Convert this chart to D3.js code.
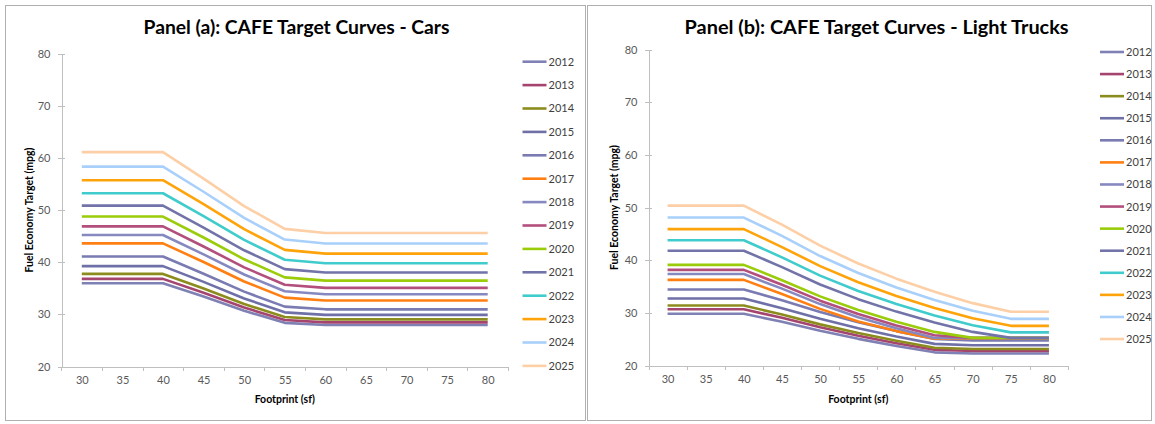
<!DOCTYPE html>
<html lang="en">
<head>
  <meta charset="UTF-8">
  <title>CAFE Target Curves</title>
  <script src="https://d3js.org/d3.v7.min.js"></script>
  <style>
    body {
      margin: 0;
      background: #ffffff;
    }
    svg {
      display: block;
      font-family: "Lato", "Open Sans", sans-serif;
    }
    .panel-border {
      fill: #ffffff;
      stroke: #b0b0b0;
      stroke-width: 1;
    }
    .chart-title {
      font-size: 19px;
      font-weight: bold;
      fill: #000000;
    }
    .axis path,
    .axis line {
      fill: none;
      stroke: #bfbfbf;
      shape-rendering: crispEdges;
    }
    .axis text {
      font-size: 11px;
      fill: #595959;
      font-family: "Lato", sans-serif;
    }
    .axis-title {
      font-size: 10.5px;
      font-weight: bold;
      fill: #000000;
    }
    .legend text {
      font-size: 11px;
      fill: #404040;
    }
    .series {
      fill: none;
      stroke-width: 2.6;
      stroke-linejoin: round;
    }
  </style>
</head>
<body>
  <svg width="1155" height="424"></svg>

  <script>
    const width = 1155;
    const height = 424;

    // Footprint categories (sf)
    const footprints = [30, 35, 40, 45, 50, 55, 60, 65, 70, 75, 80];

    // Model years, in legend order
    const modelYears = [2012, 2013, 2014, 2015, 2016, 2017, 2018, 2019, 2020, 2021, 2022, 2023, 2024, 2025];

    const yearColors = [
      "#7f80b4", "#a5456f", "#8c8c1e", "#6f70a8", "#7a7bb2", "#ff7f12", "#8688c0",
      "#b24f7c", "#9acc0a", "#7273a9", "#40cccc", "#ffa30a", "#a8d0fa", "#fdcfa6"
    ];

    const yTicks = [20, 30, 40, 50, 60, 70, 80];

    // Panel (a): passenger cars, mpg by footprint, one row per model year
    const carsMpg = [
      [35.95, 35.95, 35.95, 33.40, 30.68, 28.37, 27.95, 27.95, 27.95, 27.95, 27.95],
      [36.80, 36.80, 36.80, 34.13, 31.30, 28.90, 28.46, 28.46, 28.46, 28.46, 28.46],
      [37.75, 37.75, 37.75, 34.95, 31.99, 29.48, 29.03, 29.03, 29.03, 29.03, 29.03],
      [39.24, 39.24, 39.24, 36.22, 33.05, 30.38, 29.90, 29.90, 29.90, 29.90, 29.90],
      [41.09, 41.09, 41.09, 37.79, 34.35, 31.48, 30.96, 30.96, 30.96, 30.96, 30.96],
      [43.61, 43.61, 43.61, 40.03, 36.30, 33.21, 32.65, 32.65, 32.65, 32.65, 32.65],
      [45.21, 45.21, 45.21, 41.49, 37.63, 34.42, 33.84, 33.84, 33.84, 33.84, 33.84],
      [46.87, 46.87, 46.87, 43.01, 39.00, 35.67, 35.07, 35.07, 35.07, 35.07, 35.07],
      [48.74, 48.74, 48.74, 44.73, 40.55, 37.09, 36.47, 36.47, 36.47, 36.47, 36.47],
      [50.83, 50.83, 50.83, 46.64, 42.28, 38.67, 38.02, 38.02, 38.02, 38.02, 38.02],
      [53.21, 53.21, 53.21, 48.82, 44.26, 40.47, 39.79, 39.79, 39.79, 39.79, 39.79],
      [55.71, 55.71, 55.71, 51.11, 46.32, 42.35, 41.64, 41.64, 41.64, 41.64, 41.64],
      [58.32, 58.32, 58.32, 53.50, 48.48, 44.33, 43.58, 43.58, 43.58, 43.58, 43.58],
      [61.10, 61.10, 61.10, 56.02, 50.75, 46.38, 45.60, 45.60, 45.60, 45.60, 45.60]
    ];

    // Panel (b): light trucks
    const trucksMpg = [
      [29.82, 29.82, 29.82, 28.29, 26.58, 25.06, 23.71, 22.50, 22.27, 22.27, 22.27],
      [30.67, 30.67, 30.67, 29.05, 27.25, 25.66, 24.24, 22.98, 22.74, 22.74, 22.74],
      [31.38, 31.38, 31.38, 29.69, 27.81, 26.16, 24.69, 23.38, 23.13, 23.13, 23.13],
      [32.72, 32.72, 32.72, 30.88, 28.86, 27.08, 25.51, 24.11, 23.85, 23.85, 23.85],
      [34.42, 34.42, 34.42, 32.39, 30.17, 28.23, 26.53, 25.02, 24.74, 24.74, 24.74],
      [36.26, 36.26, 36.26, 33.59, 30.75, 28.36, 26.53, 25.09, 25.09, 25.09, 25.09],
      [37.36, 37.36, 37.36, 34.59, 31.66, 29.18, 27.07, 25.24, 25.20, 25.20, 25.20],
      [38.16, 38.16, 38.16, 35.32, 32.31, 29.78, 27.61, 25.74, 25.25, 25.25, 25.25],
      [39.11, 39.11, 39.11, 36.20, 33.12, 30.52, 28.30, 26.38, 25.25, 25.25, 25.25],
      [41.80, 41.80, 41.80, 38.68, 35.38, 32.60, 30.23, 28.17, 26.38, 25.25, 25.25],
      [43.79, 43.79, 43.79, 40.53, 37.07, 34.15, 31.66, 29.51, 27.63, 26.29, 26.29],
      [45.89, 45.89, 45.89, 42.49, 38.86, 35.80, 33.18, 30.93, 28.96, 27.53, 27.53],
      [48.09, 48.09, 48.09, 44.60, 40.78, 37.57, 34.82, 32.45, 30.38, 28.86, 28.86],
      [50.35, 50.35, 50.35, 46.75, 42.75, 39.37, 36.49, 34.00, 31.84, 30.22, 30.22]
    ];

    const panels = [
      {
        title: "Panel (a): CAFE Target Curves - Cars",
        data: carsMpg,
        box: { x: 5.5, y: 5.5, w: 580, h: 415 },
        titleX: 296.5, titleLen: 306,
        plot: { left: 61.5, right: 508, top: 53.5, bottom: 366.5 },
        yTitleX: 29,
        legend: { x: 522.5, y0: 61.7, step: 23.4 }
      },
      {
        title: "Panel (b): CAFE Target Curves - Light Trucks",
        data: trucksMpg,
        box: { x: 587.5, y: 5.5, w: 564, h: 415 },
        titleX: 876.6, titleLen: 384,
        plot: { left: 648.5, right: 1068, top: 49.5, bottom: 365.5 },
        yTitleX: 614,
        legend: { x: 1100, y0: 52, step: 22.08 }
      }
    ];

    const svg = d3.select("svg");

    panels.forEach(p => {
      const g = svg.append("g");

      // Chart area border
      g.append("rect")
        .attr("class", "panel-border")
        .attr("x", p.box.x)
        .attr("y", p.box.y)
        .attr("width", p.box.w)
        .attr("height", p.box.h);

      // Title
      g.append("text")
        .attr("class", "chart-title")
        .attr("x", p.titleX)
        .attr("y", 33.5)
        .attr("text-anchor", "middle")
        .attr("textLength", p.titleLen)
        .attr("lengthAdjust", "spacingAndGlyphs")
        .text(p.title);

      // Scales
      const xScale = d3.scalePoint()
        .domain(footprints)
        .range([p.plot.left, p.plot.right])
        .padding(0.5);

      const yScale = d3.scaleLinear()
        .domain([20, 80])
        .range([p.plot.bottom, p.plot.top]);

      // Y axis, tick marks cross the axis line
      const yAxis = g.append("g")
        .attr("class", "axis")
        .attr("transform", `translate(${p.plot.left},0)`)
        .call(d3.axisLeft(yScale).tickValues(yTicks).tickSizeInner(4).tickSizeOuter(0).tickPadding(7));
      yAxis.selectAll(".tick line").attr("x1", 3);

      // X axis, labels at category centres
      const xAxis = g.append("g")
        .attr("class", "axis")
        .attr("transform", `translate(0,${p.plot.bottom})`)
        .call(d3.axisBottom(xScale).tickSizeInner(0).tickSizeOuter(0).tickPadding(10));

      // Tick marks between categories
      const step = xScale.step();
      const boundaries = footprints.map(f => xScale(f) - step / 2)
        .concat([xScale(footprints[footprints.length - 1]) + step / 2]);
      xAxis.selectAll(".between")
        .data(boundaries)
        .join("line")
        .attr("class", "between")
        .attr("x1", d => Math.round(d) + 0.5)
        .attr("x2", d => Math.round(d) + 0.5)
        .attr("y1", 0)
        .attr("y2", 4);

      // Axis titles
      g.append("text")
        .attr("class", "axis-title")
        .attr("x", (p.plot.left + p.plot.right) / 2)
        .attr("y", 403)
        .attr("text-anchor", "middle")
        .text("Footprint (sf)");

      g.append("text")
        .attr("class", "axis-title")
        .attr("transform", `translate(${p.yTitleX},${(p.plot.top + p.plot.bottom) / 2}) rotate(-90)`)
        .attr("text-anchor", "middle")
        .attr("dy", "0.35em")
        .text("Fuel Economy Target (mpg)");

      // Series lines
      const line = d3.line()
        .x((d, i) => xScale(footprints[i]))
        .y(d => yScale(d));

      g.append("g")
        .selectAll("path")
        .data(p.data)
        .join("path")
        .attr("class", "series")
        .attr("stroke", (d, i) => yearColors[i])
        .attr("d", line);

      // Legend
      const legend = g.append("g").attr("class", "legend");
      const rows = legend.selectAll("g")
        .data(modelYears)
        .join("g")
        .attr("transform", (d, i) => `translate(${p.legend.x},${p.legend.y0 + i * p.legend.step})`);

      rows.append("line")
        .attr("x1", 0)
        .attr("x2", 24)
        .attr("stroke", (d, i) => yearColors[i])
        .attr("stroke-width", 2.6);

      rows.append("text")
        .attr("x", 26)
        .attr("dy", "0.36em")
        .text(d => d);
    });
  </script>
</body>
</html>
